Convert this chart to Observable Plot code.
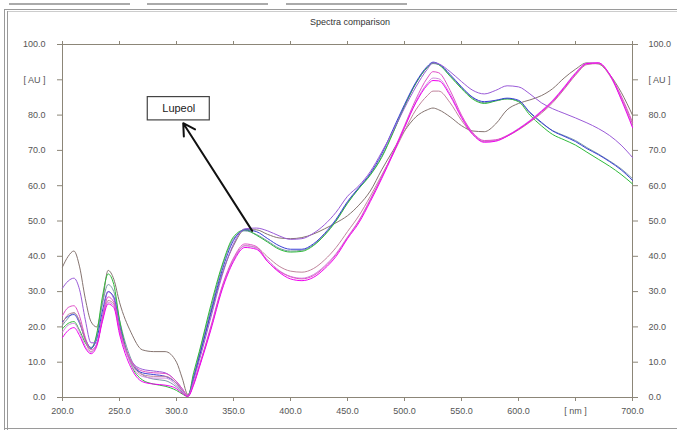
<!DOCTYPE html>
<html>
<head>
<meta charset="utf-8">
<script src="https://cdn.jsdelivr.net/npm/d3@7"></script>
<script src="https://cdn.jsdelivr.net/npm/@observablehq/plot@0.6"></script>
<style>
  body { margin: 0; background: #fff; }
  #wrap { position: relative; width: 677px; height: 430px; overflow: hidden; background: #fff;
          font-family: "Liberation Sans", Arial, sans-serif; }
  .chrome { position: absolute; background: #9a9a9a; }
  #title { position: absolute; left: 250px; width: 200px; top: 17px; text-align: center;
           font-size: 9px; color: #333; }
  #chart { position: absolute; left: 0; top: 0; }
</style>
</head>
<body>
<div id="wrap">
  <div class="chrome" style="left:9px;top:3px;width:121px;height:2px;background:#aaa"></div>
  <div class="chrome" style="left:147px;top:3px;width:121px;height:2px;background:#aaa"></div>
  <div class="chrome" style="left:286px;top:3px;width:121px;height:2px;background:#aaa"></div>
  <div class="chrome" style="left:4px;top:9px;width:673px;height:1px"></div>
  <div class="chrome" style="left:4px;top:9px;width:1px;height:421px"></div>
  <div class="chrome" style="left:7px;top:11px;width:1px;height:419px"></div>
  <div class="chrome" style="left:8px;top:11px;width:669px;height:1px;background:#ccc"></div>
  <div class="chrome" style="left:4px;top:428px;width:673px;height:1px"></div>
  <div id="title">Spectra comparison</div>
  <div id="chart"></div>
</div>
<script>
// wavelength grid [nm]
const wavelengths = [200,205,210,215,220,225,230,235,240,245,250,260,270,280,290,300,305,310,315,320,330,340,350,360,370,380,390,400,410,420,430,440,450,460,470,480,490,500,510,520,525,530,540,550,560,570,580,590,600,610,620,630,640,650,660,670,680,690,700];

// absorbance [AU] per track
const brown = [37,40,41.5,37,28,21.5,20,27,36,33.5,27,18.5,13.5,13,13,10,5.5,0.8,5.5,11.5,23.5,35,43,47.5,47.5,46.2,45.2,45,45.3,46.3,47.8,49.5,51.5,54.5,58.5,64.5,70,75.5,79.5,81.5,82,81.5,79.5,77,75.5,75.3,77.5,81.5,83.3,84.3,85.5,87.5,90.5,93,94.8,94.5,91.5,86.5,80];
const teal = [20.5,22.5,24,21.5,16.5,14.2,17.5,26.5,32,30,22,11,6.5,5.2,4.8,3,1.5,0.3,6,12.5,25,37,45,47.2,46.2,44.3,42.3,41.5,41.7,43.2,46.2,50.2,55.2,59.3,63.2,68.3,75.2,82.5,89,93.5,94.6,94.3,91.2,87.8,84.8,83.5,84.1,84.6,84,80.6,77.8,75.6,74.2,72.8,70.8,69,67,64.8,62];
const green = [19.5,21,21.5,19,15.5,13.8,18,28.5,35,32,22,9.5,5,3.8,3.2,2,1,0.3,7,13,26,37.5,45.5,47.5,46,44,42,41.2,41.4,43,46,50,55,59.2,63,68,75,82.5,89,93.5,94.8,94.3,91,87.5,84.5,83.3,84,84.6,83.8,80,77,74.5,73,71.5,69.5,67.5,65.5,63.2,60.5];
const blue = [21.5,23,23.5,21,16.5,14,16.5,24.5,30,28.5,20.5,10,7,6.5,6,4,2,0.4,5.5,11.5,24,36,44.5,47.5,47,45,43,42,42,43.5,46.5,50.5,55.5,59.5,63.5,69,76,83,89.3,93.8,95,94.5,91.5,88,85,83.8,84.2,84.8,84.2,80.8,78,75.5,74,72.5,70.5,68.8,66.8,64.5,61.5];
const purple = [31,33,33.8,30.5,22,15.5,15.5,23,30,28,20,10.5,8,7.5,7,4.5,2.5,0.5,5,10.5,22.5,34.5,43.5,47.8,48,47.2,45.8,44.8,45,46.5,49,52.5,57,60,64,69.5,75.5,82,88,93,94.8,94.5,92.3,89.5,87,86,87,88.3,88,86,83.5,81.8,80.5,79.2,77.8,76.2,74.2,71.5,68];
const mauve = [21,23.5,24,21.5,16,13,15,22,27.5,26.5,19,10,6.5,6,6,4,2,0.4,4,9,19.5,31,39,43,42.5,39.8,37.2,35.8,35.5,36.5,39,42.5,47,51.5,57,63,69,75.5,81.5,85.5,86.8,86.8,83.5,78.5,74.5,72.5,72.8,74,75.8,78,80.5,83.5,87.3,91.3,94.3,94.6,91.2,85,77.5];
const orchid = [18.5,20.5,21,18.5,14.5,12.8,15,22,27,26,19,9.5,6,5.5,5.5,3.5,1.8,0.4,3.8,8.8,19.5,31,39,43,42.3,39,36,34.3,33.8,34.8,37.3,40.8,45.5,50.2,56.2,62.5,69.3,76.5,83.8,89,90.5,90.3,86,79.6,74.8,72.6,72.9,74.2,76.2,78.5,81.2,84.2,88,92,94.7,94.8,91.4,84.8,76.8];
const pink = [23.2,25.5,26,23,17,13.5,15,22.5,28.5,27,19.5,10.5,7.5,7,6.8,4.5,2.5,0.5,4,9,20,31.5,39.5,43.5,42.8,38.5,35.8,34.2,33.6,34.5,37,40.5,45.3,50,56,62.5,69.5,77,84.5,90.5,92.3,92,87,80,75,72.8,73,74.2,76,78.2,80.8,83.8,87.5,91.5,94.5,94.7,91.5,85.5,78];
const magenta = [17,19,19.8,17.5,14,12.4,14.5,21.5,26.5,25.5,18,8.5,4.5,3.8,3.5,2.5,1.2,0.3,3.5,8.5,19,30.5,38.5,42.5,42,38.5,35.5,33.6,33.1,34,36.5,40,45,49.5,55.5,62,69,76.5,83.5,88.5,89.8,89.7,85.5,79.3,74.5,72.3,72.6,74,76,78.3,81,84,87.8,91.8,94.6,94.8,91.5,84.5,76.5];

const seriesNames  = ["brown","teal","green","blue","purple","mauve","orchid","pink","magenta"];
const seriesValues = [brown, teal, green, blue, purple, mauve, orchid, pink, magenta];
const seriesColors = ["#857470","#7a98a8","#2fba3a","#3b3fd6","#9a5ad8","#c0849c","#d28ae0","#e050c8","#f000f0"];

// axis ticks
const xTicks = [200,250,300,350,400,450,500,550,600,650,700];
const yTicks = [0,10,20,30,40,50,60,70,80,90,100];
const xUnitTick = 650, xUnitLabel = "[ nm ]";
const yUnitTick = 90,  yUnitLabel = "[ AU ]";

// annotation (data coordinates)
const annotation = [{label: "Lupeol", boxX1: 274.8, boxX2: 329.2, boxY1: 78.5, boxY2: 85.1,
                     fromX: 366.4, fromY: 47.2, toX: 305.9, toY: 77.7}];

const rows = seriesNames.flatMap((name, k) =>
  wavelengths.map((w, i) => ({series: name, wl: w, au: seriesValues[k][i]})));

const fmtX = d => d === xUnitTick ? xUnitLabel : d.toFixed(1);
const fmtY = d => d === yUnitTick ? yUnitLabel : d.toFixed(1);
const axisColor = "#8c8678";

const chart = Plot.plot({
  width: 677,
  height: 430,
  marginTop: 44,
  marginBottom: 33,
  marginLeft: 62,
  marginRight: 45,
  style: {background: "transparent", fontSize: "9px", fontFamily: "'Liberation Sans', Arial, sans-serif", color: "#555"},
  x: {domain: [200, 700]},
  y: {domain: [0, 100]},
  color: {domain: seriesNames, range: seriesColors},
  marks: [
    Plot.frame({stroke: axisColor}),
    Plot.axisY(yTicks, {anchor: "left", tickSize: 5, tickPadding: 12, tickFormat: fmtY, stroke: axisColor, fill: "#555", label: null}),
    Plot.axisY(yTicks, {anchor: "right", tickSize: 5, tickPadding: 11, tickFormat: fmtY, stroke: axisColor, fill: "#555", label: null}),
    Plot.axisX(xTicks, {anchor: "bottom", tickSize: 4, tickPadding: 6, tickFormat: fmtX, stroke: axisColor, fill: "#555", label: null}),
    Plot.axisX(xTicks, {anchor: "top", tickSize: 4, tickFormat: () => "", stroke: axisColor, label: null}),
    Plot.line(rows, {x: "wl", y: "au", z: "series", stroke: "series", strokeWidth: 1, curve: "monotone-x"}),
    Plot.arrow(annotation, {x1: "fromX", y1: "fromY", x2: "toX", y2: "toY", stroke: "#111", strokeWidth: 2, headLength: 10}),
    Plot.rect(annotation, {x1: "boxX1", x2: "boxX2", y1: "boxY1", y2: "boxY2", fill: "white", stroke: "#444", strokeWidth: 1.2}),
    Plot.text(annotation, {x: d => (d.boxX1 + d.boxX2) / 2, y: d => (d.boxY1 + d.boxY2) / 2, text: "label", fontSize: 11, fill: "#222"})
  ]
});
document.getElementById("chart").appendChild(chart);
</script>
</body>
</html>
